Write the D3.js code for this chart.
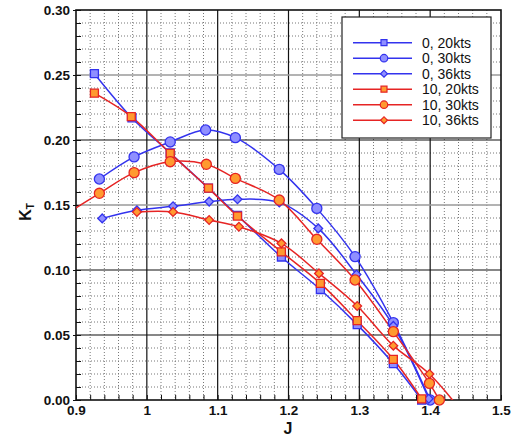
<!DOCTYPE html>
<html><head><meta charset="utf-8">
<script src="https://cdn.jsdelivr.net/npm/d3@7"></script>
<style>body{margin:0;background:#fff}</style></head><body>
<svg id="c" width="515" height="437"></svg>
<script>
// ---- data ----
const seriesNames = ["0, 20kts", "0, 30kts", "0, 36kts", "10, 20kts", "10, 30kts", "10, 36kts"];
const j_0_20  = [0.926, 0.979, 1.033, 1.087, 1.128, 1.190, 1.245, 1.297, 1.348, 1.388];
const kt_0_20 = [0.251, 0.217, 0.190, 0.163, 0.142, 0.110, 0.085, 0.058, 0.028, 0.000];
const j_0_30  = [0.933, 0.982, 1.033, 1.083, 1.125, 1.187, 1.240, 1.294, 1.348, 1.400];
const kt_0_30 = [0.170, 0.187, 0.1985, 0.2077, 0.2018, 0.1774, 0.1474, 0.1103, 0.0595, 0.000];
const j_0_36  = [0.937, 0.986, 1.037, 1.088, 1.128, 1.187, 1.242, 1.296, 1.348, 1.398];
const kt_0_36 = [0.1397, 0.146, 0.149, 0.1526, 0.1544, 0.152, 0.132, 0.0965, 0.057, 0.001];
const j_10_20  = [0.926, 0.978, 1.033, 1.087, 1.128, 1.190, 1.245, 1.297, 1.348, 1.388];
const kt_10_20 = [0.236, 0.218, 0.1897, 0.163, 0.1415, 0.114, 0.0897, 0.061, 0.0313, 0.0008];
const j_10_30  = [0.880, 0.933, 0.982, 1.033, 1.084, 1.125, 1.187, 1.240, 1.294, 1.348, 1.399, 1.413];
const kt_10_30 = [0.141, 0.159, 0.1749, 0.1833, 0.1813, 0.1705, 0.1538, 0.1236, 0.0923, 0.0526, 0.0128, 0.000];
const j_10_36  = [0.986, 1.037, 1.088, 1.130, 1.190, 1.243, 1.297, 1.348, 1.399, 1.449];
const kt_10_36 = [0.1446, 0.1446, 0.1385, 0.1333, 0.1205, 0.0974, 0.0723, 0.0418, 0.020, -0.012];
const xTickLabels = ["0.9", "1", "1.1", "1.2", "1.3", "1.4", "1.5"];
const yTickLabels = ["0.00", "0.05", "0.10", "0.15", "0.20", "0.25", "0.30"];

const seriesJ = [j_0_20, j_0_30, j_0_36, j_10_20, j_10_30, j_10_36];
const seriesK = [kt_0_20, kt_0_30, kt_0_36, kt_10_20, kt_10_30, kt_10_36];

// ---- styles ----
const blueLine = "#3333ee", blueFill = "#8f8fff";
const redLine = "#e62424", redFill = "#ff9a30";
const styles = [
  {line: blueLine, fill: blueFill, shape: "square"},
  {line: blueLine, fill: blueFill, shape: "circle"},
  {line: blueLine, fill: blueFill, shape: "diamond"},
  {line: redLine, fill: redFill, shape: "square"},
  {line: redLine, fill: redFill, shape: "circle"},
  {line: redLine, fill: redFill, shape: "diamond"}
];
const symSize = {square: 64, circle: 80, diamond: 38};
const legSize = {square: 36, circle: 44, diamond: 24};
const symType = {square: d3.symbolSquare, circle: d3.symbolCircle, diamond: d3.symbolSquare};
const symRot = {square: 0, circle: 0, diamond: 45};

const L = 76, R = 501, T = 10, B = 400;
const x = d3.scaleLinear().domain([0.9, 1.5]).range([L, R]);
const y = d3.scaleLinear().domain([0, 0.3]).range([B, T]);

const svg = d3.select("#c");
const font = "'Liberation Sans', Arial, sans-serif";

const defs = svg.append("defs");
defs.append("clipPath").attr("id", "clipL").append("rect")
  .attr("x", L).attr("y", T).attr("width", R - L).attr("height", B - T);
defs.append("clipPath").attr("id", "clipM").append("rect")
  .attr("x", L - 6).attr("y", T - 6).attr("width", R - L + 12).attr("height", B - T + 12);

// minor grid
const xMinor = d3.range(0, 31).map(i => 0.9 + i * 0.02).filter(v => Math.abs((v * 10) - Math.round(v * 10)) > 1e-6);
const yMinor = d3.range(0, 31).map(i => i * 0.01).filter(v => Math.abs((v * 20) - Math.round(v * 20)) > 1e-6);
const g = svg.append("g");
g.selectAll(".xm").data(xMinor).enter().append("line")
  .attr("x1", d => x(d)).attr("x2", d => x(d)).attr("y1", T).attr("y2", B)
  .attr("stroke", "#777").attr("stroke-width", 1).attr("stroke-dasharray", "1,2");
g.selectAll(".ym").data(yMinor).enter().append("line")
  .attr("y1", d => y(d)).attr("y2", d => y(d)).attr("x1", L).attr("x2", R)
  .attr("stroke", "#777").attr("stroke-width", 1).attr("stroke-dasharray", "1,2");

// major grid
const xMajor = xTickLabels.map(Number);
const yMajor = yTickLabels.map(Number);
const isGray = d => Math.abs(d - 0.15) < 1e-6 || Math.abs(d - 0.25) < 1e-6;
g.selectAll(".xM").data(xMajor.slice(1, -1)).enter().append("line")
  .attr("x1", d => x(d)).attr("x2", d => x(d)).attr("y1", T).attr("y2", B)
  .attr("stroke", "#111").attr("stroke-width", 1.2);
g.selectAll(".yM").data(yMajor.slice(1, -1)).enter().append("line")
  .attr("y1", d => y(d)).attr("y2", d => y(d)).attr("x1", L).attr("x2", R)
  .attr("stroke", d => isGray(d) ? "#9a9a9a" : "#111")
  .attr("stroke-width", d => isGray(d) ? 1.6 : 1.2);

// axes with inward ticks
const yAxisMinor = d3.axisRight(y).tickValues(d3.range(0, 31).map(i => i * 0.01)).tickSize(5).tickFormat("");
svg.append("g").attr("transform", `translate(${L},0)`).call(yAxisMinor)
  .call(s => s.select(".domain").remove()).selectAll("line").attr("stroke", "#111");
const yAxisMaj = d3.axisLeft(y).tickValues(yMajor).tickSize(3).tickPadding(3)
  .tickFormat((d, i) => yTickLabels[i]);
svg.append("g").attr("transform", `translate(${L},0)`).call(yAxisMaj)
  .call(s => s.select(".domain").remove())
  .call(s => s.selectAll("line").attr("stroke", "#111"))
  .call(s => s.selectAll("text").attr("font-family", font).attr("font-weight", "bold")
    .attr("font-size", 13.5).attr("fill", "#111"));

const xAxisMinor = d3.axisTop(x).tickValues(d3.range(0, 31).map(i => 0.9 + i * 0.02)).tickSize(5).tickFormat("");
svg.append("g").attr("transform", `translate(0,${B})`).call(xAxisMinor)
  .call(s => s.select(".domain").remove()).selectAll("line").attr("stroke", "#111");
const xAxisMaj = d3.axisBottom(x).tickValues(xMajor).tickSize(0).tickPadding(5)
  .tickFormat((d, i) => xTickLabels[i]);
svg.append("g").attr("transform", `translate(0,${B})`).call(xAxisMaj)
  .call(s => s.select(".domain").remove())
  .call(s => s.selectAll("text").attr("font-family", font).attr("font-weight", "bold")
    .attr("font-size", 13.5).attr("fill", "#111"));

// frame
svg.append("rect").attr("x", L).attr("y", T).attr("width", R - L).attr("height", B - T)
  .attr("fill", "none").attr("stroke", "#111").attr("stroke-width", 1.6);

// series
const line = d3.line().x(d => x(d[0])).y(d => y(d[1])).curve(d3.curveCatmullRom.alpha(0.5));
const lines = svg.append("g").attr("clip-path", "url(#clipL)");
const marks = svg.append("g").attr("clip-path", "url(#clipM)");
seriesJ.forEach((js, si) => {
  const pts = js.map((jv, i) => [jv, seriesK[si][i]]);
  const st = styles[si];
  lines.append("path").datum(pts).attr("d", line)
    .attr("fill", "none").attr("stroke", st.line).attr("stroke-width", 1.5);
});
seriesJ.forEach((js, si) => {
  const pts = js.map((jv, i) => [jv, seriesK[si][i]]);
  const st = styles[si];
  marks.selectAll(null).data(pts).enter().append("path")
    .attr("d", d3.symbol().type(symType[st.shape]).size(symSize[st.shape]))
    .attr("transform", d => `translate(${x(d[0])},${y(d[1])}) rotate(${symRot[st.shape]})`)
    .attr("fill", st.fill).attr("stroke", st.line).attr("stroke-width", 1.3);
});

// legend
const leg = svg.append("g");
leg.append("rect").attr("x", 342).attr("y", 17).attr("width", 149).attr("height", 121)
  .attr("fill", "#fff").attr("stroke", "#222").attr("stroke-width", 1.2);
seriesNames.forEach((nm, i) => {
  const yy = 42.7 + i * 15.5;
  const st = styles[i];
  leg.append("line").attr("x1", 353).attr("x2", 412).attr("y1", yy).attr("y2", yy)
    .attr("stroke", st.line).attr("stroke-width", 1.6);
  leg.append("path").attr("d", d3.symbol().type(symType[st.shape]).size(legSize[st.shape]))
    .attr("transform", `translate(384,${yy}) rotate(${symRot[st.shape]})`)
    .attr("fill", st.fill).attr("stroke", st.line).attr("stroke-width", 1.2);
  leg.append("text").attr("x", 422).attr("y", yy + 5).text(nm)
    .attr("font-family", font).attr("font-size", 14).attr("fill", "#111");
});

// axis titles
svg.append("text").attr("x", 288).attr("y", 434).attr("text-anchor", "middle")
  .attr("font-family", font).attr("font-weight", "bold").attr("font-size", 16).attr("fill", "#111").text("J");
const kt = svg.append("text").attr("transform", "translate(31,212) rotate(-90)").attr("text-anchor", "middle")
  .attr("font-family", font).attr("font-weight", "bold").attr("font-size", 16).attr("fill", "#111");
kt.append("tspan").text("K");
kt.append("tspan").attr("font-size", 10).attr("dy", 3).text("T");
</script>
</body></html>
